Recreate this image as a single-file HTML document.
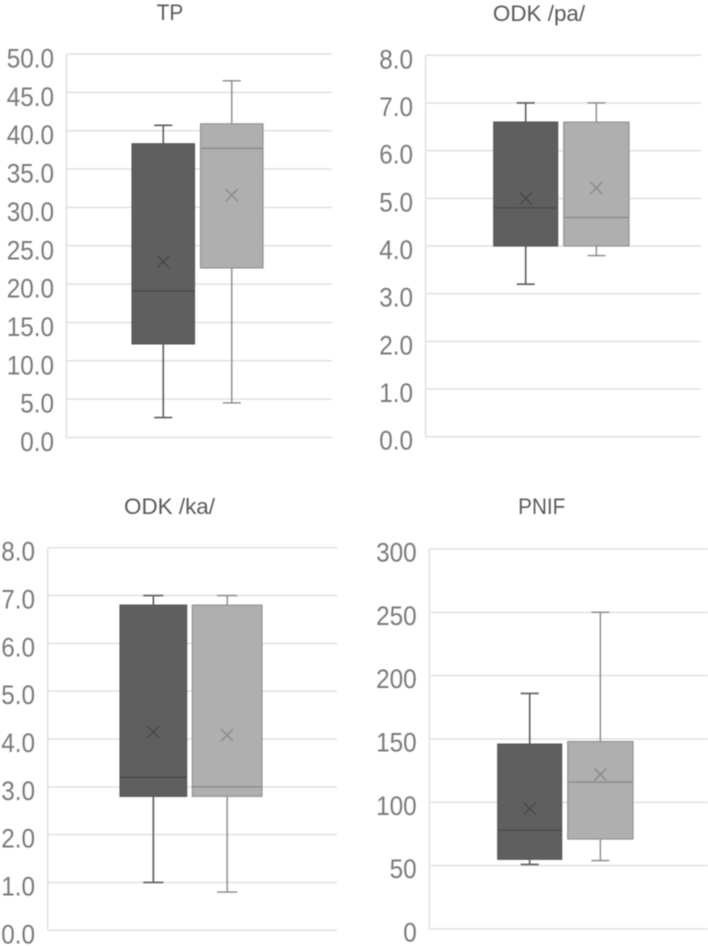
<!DOCTYPE html>
<html lang="en">
<head>
<meta charset="utf-8">
<title>Box plots: TP, ODK /pa/, ODK /ka/, PNIF</title>
<style>
html,body{margin:0;padding:0;background:#fff;}
#figure{display:block;width:708px;height:946px;filter:blur(0.5px);font-family:"Liberation Sans","Noto Sans CJK JP",sans-serif;}
</style>
</head>
<body>
<svg id="figure" xmlns="http://www.w3.org/2000/svg" width="708" height="946" viewBox="0 0 708 946"></svg>
<script>
// Values: [min, q1, median, q3, max, mean]
const tpTicks = ['0.0','5.0','10.0','15.0','20.0','25.0','30.0','35.0','40.0','45.0','50.0'];
const tpDark = [2.6, 12.2, 19.1, 38.3, 40.7, 22.9];
const tpLight = [4.5, 22.1, 37.7, 40.9, 46.5, 31.6];

const paTicks = ['0.0','1.0','2.0','3.0','4.0','5.0','6.0','7.0','8.0'];
const paDark = [3.2, 4.0, 4.8, 6.6, 7.0, 5.0];
const paLight = [3.8, 4.0, 4.6, 6.6, 7.0, 5.22];

const kaTicks = ['0.0','1.0','2.0','3.0','4.0','5.0','6.0','7.0','8.0'];
const kaDark = [1.0, 2.8, 3.2, 6.8, 7.0, 4.15];
const kaLight = [0.8, 2.8, 3.0, 6.8, 7.0, 4.08];

const pnifTicks = ['0','50','100','150','200','250','300'];
const pnifDark = [51, 55, 78, 146, 186, 95];
const pnifLight = [54, 71, 116, 148, 250, 122];

const panels = [
  {key:'tp', title:'TP', ticks:tpTicks, dark:tpDark, light:tpLight,
   left:66.5, right:332, top:54, bottom:437.5, labelX:54, labelDy:13.5, titleX:170, titleY:20, titleScale:0.95, darkBox:[132,194.5], lightBox:[200.5,263], capW:9},
  {key:'odk-pa', title:'ODK /pa/', ticks:paTicks, dark:paDark, light:paLight,
   left:425.7, right:701, top:55.3, bottom:436.7, labelX:413, labelDy:13, titleX:539, titleY:21, titleScale:1.02, darkBox:[493.7,557.7], lightBox:[563.7,629], capW:9},
  {key:'odk-ka', title:'ODK /ka/', ticks:kaTicks, dark:kaDark, light:kaLight,
   left:47.7, right:337, top:547.7, bottom:930.3, labelX:35, labelDy:13, titleX:169.5, titleY:514, titleScale:1.02, darkBox:[120,186.7], lightBox:[192.3,262], capW:10},
  {key:'pnif', title:'PNIF', ticks:pnifTicks, dark:pnifDark, light:pnifLight,
   left:429.3, right:708, top:549, bottom:929, labelX:416.7, labelDy:12.5, titleX:541.7, titleY:514, titleScale:0.94, darkBox:[497.7,561.7], lightBox:[567.7,633], capW:9}
];

const darkStyle = {fill:'#5f5f5f', edge:'#565656', whisker:'#5c5c5c', median:'#4a4a4a', mean:'#484848', w:1.6};
const lightStyle = {fill:'#afafaf', edge:'#8f8f8f', whisker:'#888888', median:'#8a8a8a', mean:'#8a8a8a', w:1.4};

const SVGNS = 'http://www.w3.org/2000/svg';
const root = document.getElementById('figure');

function make(tag, parent, attrs) {
  const node = document.createElementNS(SVGNS, tag);
  for (const k in attrs) node.setAttribute(k, attrs[k]);
  parent.appendChild(node);
  return node;
}

function drawLine(parent, x1, y1, x2, y2, stroke, w, name) {
  const ln = make('line', parent, {x1:x1, y1:y1, x2:x2, y2:y2, stroke:stroke, 'stroke-width':w});
  
  
  return ln;
}

function drawBox(parent, p, values, range, style, yScale, name) {
  const g = make('g', parent, {});
  
  
  const cx = (range[0] + range[1]) / 2;
  const [lo, q1, med, q3, hi, mean] = values;
  drawLine(g, cx, yScale(hi), cx, yScale(q3), style.whisker, style.w, 'upper-whisker');
  drawLine(g, cx - p.capW, yScale(hi), cx + p.capW, yScale(hi), style.whisker, style.w, 'upper-whisker-cap');
  drawLine(g, cx, yScale(q1), cx, yScale(lo), style.whisker, style.w, 'lower-whisker');
  drawLine(g, cx - p.capW, yScale(lo), cx + p.capW, yScale(lo), style.whisker, style.w, 'lower-whisker-cap');
  const box = make('rect', g, {x:range[0], y:yScale(q3), width:range[1]-range[0], height:yScale(q1)-yScale(q3), fill:style.fill, stroke:style.edge, 'stroke-width':1.1});
  
  
  drawLine(g, range[0], yScale(med), range[1], yScale(med), style.median, 1.4, 'median-line');
  const my = yScale(mean), r = 6;
  drawLine(g, cx - r, my - r, cx + r, my + r, style.mean, 1.4, 'mean-marker-stroke');
  drawLine(g, cx - r, my + r, cx + r, my - r, style.mean, 1.4, 'mean-marker-stroke');
}

panels.forEach(function (p) {
  const maxV = parseFloat(p.ticks[p.ticks.length - 1]);
  const yScale = function (v) { return p.bottom - (v / maxV) * (p.bottom - p.top); };

  const g = make('g', root, {});
  
  

  const title = make('text', g, {x:0, y:0, 'font-size':22, fill:'#595959', 'text-anchor':'middle',
    transform:'translate(' + p.titleX + ',' + p.titleY + ') scale(' + p.titleScale + ',1)'});
  title.textContent = p.title;
  
  

  p.ticks.forEach(function (t) {
    const v = parseFloat(t), y = yScale(v);
    drawLine(g, p.left, y, p.right, y, '#e0e0e0', 1.5, p.key + '-gridline');
    const lab = make('text', g, {x:0, y:0, 'font-size':27, fill:'#7a7a7a', 'text-anchor':'end',
      transform:'translate(' + p.labelX + ',' + (y + p.labelDy) + ') scale(0.9,1)'});
    lab.textContent = t;
    
    
  });
  drawLine(g, p.left, p.top, p.left, p.bottom, '#e0e0e0', 1.5, p.key + '-y-axis-line');

  drawBox(g, p, p.dark, p.darkBox, darkStyle, yScale, p.key + '-dark-box');
  drawBox(g, p, p.light, p.lightBox, lightStyle, yScale, p.key + '-light-box');
});
</script>
</body>
</html>
